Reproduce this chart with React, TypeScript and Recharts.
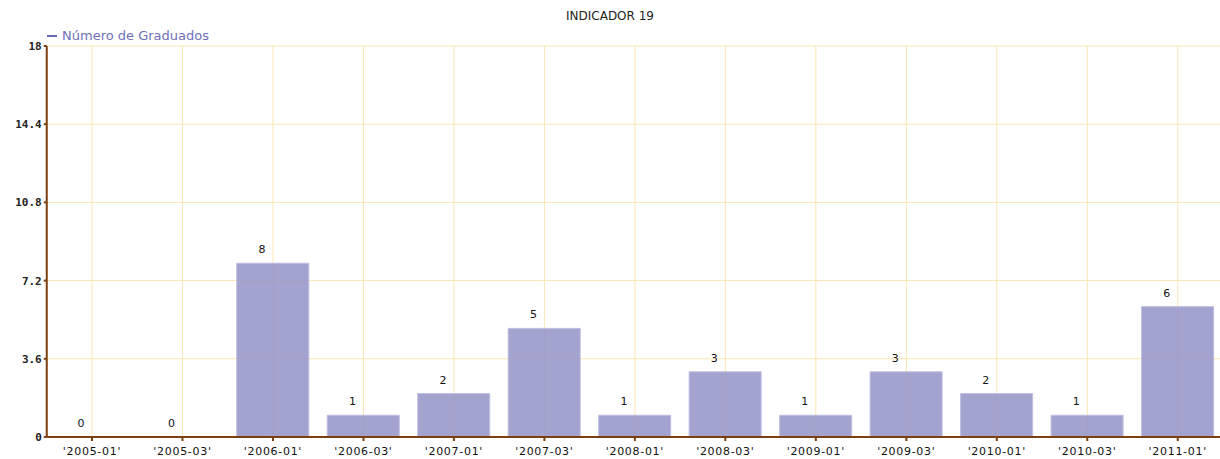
import { ComposedChart, Bar, Line, XAxis, YAxis, CartesianGrid, LabelList } from 'recharts';

const periods = ["'2005-01'", "'2005-03'", "'2006-01'", "'2006-03'", "'2007-01'", "'2007-03'", "'2008-01'", "'2008-03'", "'2009-01'", "'2009-03'", "'2010-01'", "'2010-03'", "'2011-01'"];
const graduados = [0, 0, 8, 1, 2, 5, 1, 3, 1, 3, 2, 1, 6];
const yTicks = [0, 3.6, 7.2, 10.8, 14.4, 18];

const data = periods.map((p, i) => ({ periodo: p, valor: graduados[i] }));

const font = '"DejaVu Sans", Verdana, sans-serif';
const mono = '"DejaVu Sans Mono", "Liberation Mono", monospace';
const axisBrown = '#7b4012';
const gridYellow = '#fae6b4';

const App = () => {
  return (
    <div style={{ position: 'absolute', left: 0, top: 0, width: 1220, height: 459, overflow: 'hidden', background: '#fff' }}>
      <div style={{ position: 'absolute', top: 9, width: 1220, textAlign: 'center', fontFamily: font, fontSize: 12, color: '#222' }}>
        INDICADOR 19
      </div>
      <div style={{ position: 'absolute', top: 28, left: 47, fontFamily: font, fontSize: 13, color: '#7070b8', display: 'flex', alignItems: 'center' }}>
        <span style={{ display: 'inline-block', width: 10, height: 2, background: '#6a6ab4', marginRight: 5 }} />
        Número de Graduados
      </div>
      <ComposedChart
        width={1224}
        height={459}
        data={data}
        barCategoryGap="10%"
        margin={{ top: 46, right: 1, left: 6.75, bottom: 0 }}
      >
        <CartesianGrid stroke={gridYellow} strokeWidth={1} />
        <XAxis
          dataKey="periodo"
          height={22}
          interval={0}
          stroke={axisBrown}
          strokeWidth={2}
          tickSize={4}
          tick={{ fontFamily: font, fontSize: 11, fill: '#111', dy: 4, letterSpacing: 0.7 }}
          tickLine={{ stroke: axisBrown, strokeWidth: 2 }}
        />
        <YAxis
          width={40}
          domain={[0, 18]}
          ticks={yTicks}
          interval={0}
          stroke={axisBrown}
          strokeWidth={2}
          tickSize={3}
          tick={{ fontFamily: mono, fontSize: 11, fontWeight: 'bold', fill: '#222' }}
          tickLine={{ stroke: axisBrown, strokeWidth: 2 }}
        />
        <Bar dataKey="valor" fill="#9393c7" fillOpacity={0.85} stroke="#bdbde0" strokeWidth={1} isAnimationActive={false} />
        <Line dataKey="valor" stroke="none" dot={false} activeDot={false} isAnimationActive={false}>
          <LabelList dataKey="valor" position="top" offset={10} dx={-11} style={{ fontFamily: font, fontSize: 11, fill: '#111' }} />
        </Line>
      </ComposedChart>
    </div>
  );
};

export default App;
